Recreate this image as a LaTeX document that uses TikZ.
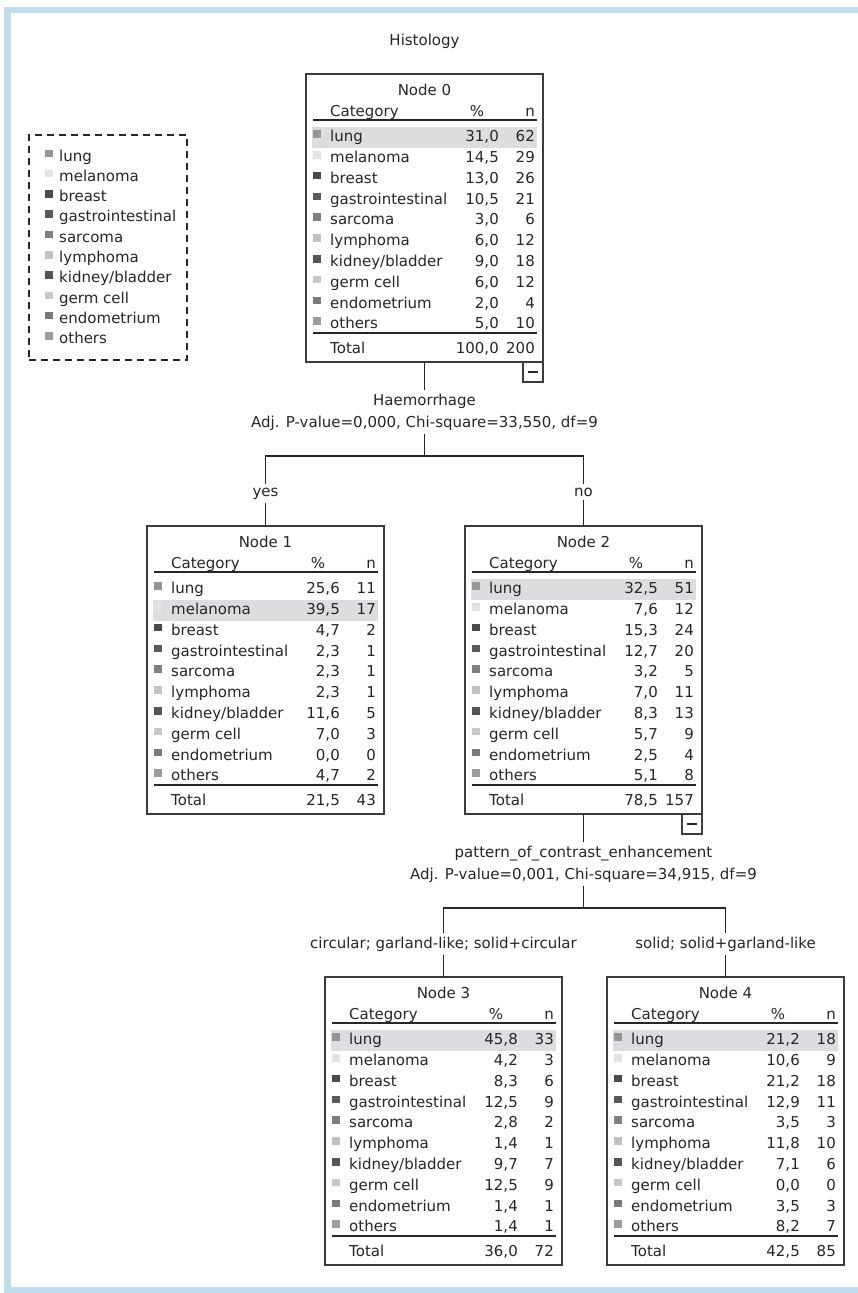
\documentclass[tikz,border=0pt]{standalone}
\usepackage{fontspec}
\setmainfont{DejaVu Sans}
\usetikzlibrary{calc}
\definecolor{txtc}{HTML}{262626}
\definecolor{boxc}{HTML}{3C3C3C}
\definecolor{hlc}{HTML}{DDDDE0}
\definecolor{framec}{HTML}{BEDEEE}
\definecolor{c1}{HTML}{959595}
\definecolor{c2}{HTML}{E2E2E2}
\definecolor{c3}{HTML}{4A4A4A}
\definecolor{c4}{HTML}{5A5A5A}
\definecolor{c5}{HTML}{808080}
\definecolor{c6}{HTML}{C2C2C2}
\definecolor{c7}{HTML}{555555}
\definecolor{c8}{HTML}{C8C8C8}
\definecolor{c9}{HTML}{7A7A7A}
\definecolor{c10}{HTML}{9C9C9C}
\newcommand\catname[1]{\ifcase#1\or lung\or melanoma\or breast\or gastrointestinal\or sarcoma\or lymphoma\or kidney/bladder\or germ cell\or endometrium\or others\fi}
\newcommand\fsz{\fontsize{15}{18}\selectfont}
\tikzset{
  x=1pt, y=-1pt,
  box/.style={draw=boxc, line width=1.4pt, minimum width=237pt, minimum height=288pt, inner sep=0pt, outer sep=0pt, anchor=north west},
  txt/.style={font=\fsz, text=txtc, inner sep=0pt, anchor=base west},
  num/.style={font=\fsz, text=txtc, inner sep=0pt, anchor=base east},
  ctr/.style={font=\fsz, text=txtc, inner sep=0pt, anchor=base},
  lbl/.style={font=\fsz, text=txtc, inner sep=4pt, outer sep=0pt, anchor=base},
  sepline/.style={draw=txtc, line width=1.7pt},
  conn/.style={draw=txtc, line width=1.4pt},
  minusbox/.style={draw=boxc, line width=1.2pt, minimum width=20pt, minimum height=20pt, inner sep=0pt, outer sep=0pt, anchor=north east},
  legendbox/.style={draw=txtc, line width=1.4pt, dash pattern=on 7pt off 5pt, minimum width=158pt, minimum height=225pt, inner sep=0pt, outer sep=0pt, anchor=north west}
}
% #1 name, #2 L, #3 T, #4 title, #5 highlighted row, #6 rows, #7 total pct, #8 total n
\newcommand\spssnode[8]{%
  \fill[hlc] ({#2+6},{#3+67.7+(#5-1)*20.8-15}) rectangle ++(225,21);
  \node[box] (#1) at (#2,#3) {};
  \node[ctr] (#1-title) at ({#2+118.5},{#3+21}) {#4};
  \node[txt] (#1-hc) at ({#2+24},{#3+42.5}) {Category};
  \node[ctr] (#1-hp) at ({#2+171},{#3+42.5}) {\%};
  \node[num] (#1-hn) at ({#2+229},{#3+42.5}) {n};
  \draw[sepline] ({#2+7},{#3+46}) -- ({#2+231},{#3+46});
  \foreach [count=\i] \p/\n in {#6} {
    \fill[c\i] ({#2+7},{#3+67.7+(\i-1)*20.8-11.5}) rectangle ++(7.5,7.5);
    \node[txt] (#1-c\i) at ({#2+24},{#3+67.7+(\i-1)*20.8}) {\catname{\i}};
    \node[num] (#1-p\i) at ({#2+193},{#3+67.7+(\i-1)*20.8}) {\p};
    \node[num] (#1-n\i) at ({#2+229},{#3+67.7+(\i-1)*20.8}) {\n};
  }
  \draw[sepline] ({#2+7},{#3+259.3}) -- ({#2+231},{#3+259.3});
  \node[txt] (#1-tl) at ({#2+24},{#3+279}) {Total};
  \node[num] (#1-tp) at ({#2+193},{#3+279}) {#7};
  \node[num] (#1-tn) at ({#2+229},{#3+279}) {#8};
}
\newcommand\minusof[1]{%
  \node[minusbox] (#1-m) at (#1.south east) {};
  \draw[draw=txtc, line width=1.2pt] ($(#1-m.center)+(-5,0)$) -- ($(#1-m.center)+(5,0)$);
}
\begin{document}
\begin{tikzpicture}
\useasboundingbox (0,0) rectangle (858,1293);
\fill[white] (0,0) rectangle (858,1293);
% frame
\fill[framec] (4,7) rectangle (858,13);
\fill[framec] (4,7) rectangle (11,1293);
\fill[framec] (4,1287) rectangle (858,1293);

\node[ctr] (title) at (424.5,45) {Histology};

% legend
\node[legendbox] (legend) at (29,135) {};
\foreach \i in {1,...,10} {
  \fill[c\i] (45,{161+(\i-1)*20.3-11.5}) rectangle ++(7.5,7.5);
  \node[txt] (leg\i) at (59,{161+(\i-1)*20.3}) {\catname{\i}};
}

\spssnode{n0}{306}{74}{Node 0}{1}{{31{,}0}/62,{14{,}5}/29,{13{,}0}/26,{10{,}5}/21,{3{,}0}/6,{6{,}0}/12,{9{,}0}/18,{6{,}0}/12,{2{,}0}/4,{5{,}0}/10}{100,0}{200}
\minusof{n0}
\spssnode{n1}{147}{526}{Node 1}{2}{{25{,}6}/11,{39{,}5}/17,{4{,}7}/2,{2{,}3}/1,{2{,}3}/1,{2{,}3}/1,{11{,}6}/5,{7{,}0}/3,{0{,}0}/0,{4{,}7}/2}{21,5}{43}
\spssnode{n2}{465}{526}{Node 2}{1}{{32{,}5}/51,{7{,}6}/12,{15{,}3}/24,{12{,}7}/20,{3{,}2}/5,{7{,}0}/11,{8{,}3}/13,{5{,}7}/9,{2{,}5}/4,{5{,}1}/8}{78,5}{157}
\minusof{n2}
\spssnode{n3}{325}{977}{Node 3}{1}{{45{,}8}/33,{4{,}2}/3,{8{,}3}/6,{12{,}5}/9,{2{,}8}/2,{1{,}4}/1,{9{,}7}/7,{12{,}5}/9,{1{,}4}/1,{1{,}4}/1}{36,0}{72}
\spssnode{n4}{607}{977}{Node 4}{1}{{21{,}2}/18,{10{,}6}/9,{21{,}2}/18,{12{,}9}/11,{3{,}5}/3,{11{,}8}/10,{7{,}1}/6,{0{,}0}/0,{3{,}5}/3,{8{,}2}/7}{42,5}{85}

% first split
\node[lbl] (s0a) at (n0.south |- 0,405) {Haemorrhage};
\node[lbl] (s0b) at (n0.south |- 0,427) {Adj. P-value=0,000, Chi-square=33,550, df=9};
\coordinate (h0) at (n0.south |- 0,456);
\node[lbl] (yes) at (n1.north |- 0,496) {yes};
\node[lbl] (no) at (n2.north |- 0,496) {no};
\draw[conn] (n0.south) -- (s0a.north);
\draw[conn] (s0b.south) -- (h0);
\draw[conn] (yes.north) |- (h0) -| (no.north);
\draw[conn] (yes.south) -- (n1.north);
\draw[conn] (no.south) -- (n2.north);

% second split
\node[lbl] (s2a) at (n2.south |- 0,857) {pattern\_of\_contrast\_enhancement};
\node[lbl] (s2b) at (n2.south |- 0,879) {Adj. P-value=0,001, Chi-square=34,915, df=9};
\coordinate (h2) at (n2.south |- 0,908);
\node[lbl] (l3) at (n3.north |- 0,948) {circular; garland-like; solid+circular};
\node[lbl] (l4) at (n4.north |- 0,948) {solid; solid+garland-like};
\draw[conn] (n2.south) -- (s2a.north);
\draw[conn] (s2b.south) -- (h2);
\draw[conn] (l3.north) |- (h2) -| (l4.north);
\draw[conn] (l3.south) -- (n3.north);
\draw[conn] (l4.south) -- (n4.north);
\end{tikzpicture}
\end{document}
